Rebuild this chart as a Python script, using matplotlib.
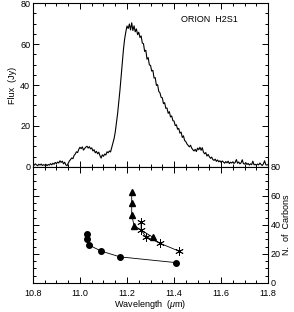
import matplotlib
matplotlib.use("Agg")
import matplotlib.pyplot as plt
import numpy as np
from matplotlib.ticker import MultipleLocator

plt.rcParams['font.family'] = ['Liberation Sans', 'DejaVu Sans']
plt.rcParams['mathtext.fontset'] = 'custom'
plt.rcParams['mathtext.it'] = 'Liberation Sans:italic'

# spectrum: wavelength grid start/step and flux values (Jy)
wave_start = 10.80
wave_step = 0.005
flux = [
    1.2, 0.8, 1.5, 1.0, 0.6, 1.3, 0.9, 1.4, 0.7, 1.1,
    0.8, 1.3, 0.6, 1.2, 0.9, 1.6, 1.0, 1.8, 1.3, 2.2,
    1.6, 2.4, 1.9, 3.0, 2.2, 2.8, 1.5, 2.3, 1.0, 0.6,
    1.8, 2.9, 3.6, 4.4, 4.0, 5.6, 6.3, 7.4, 7.0, 8.6,
    9.6, 8.9, 9.8, 8.2, 9.0, 9.7, 10.1, 9.2, 9.9, 8.8,
    9.3, 7.8, 8.4, 6.9, 7.6, 6.4, 7.2, 5.5, 4.3, 5.9,
    5.2, 6.3, 5.8, 7.4, 6.9, 7.8, 7.3, 9.4, 11.5, 13.8,
    17.0, 21.5, 26.0, 31.8, 37.5, 44.0, 51.0, 57.5, 62.5, 66.0,
    68.8, 67.6, 69.8, 66.9, 70.4, 66.6, 68.9, 66.0, 67.4, 64.6,
    65.8, 63.2, 64.0, 60.5, 60.2, 56.4, 57.0, 52.6, 53.4, 49.8,
    49.6, 46.8, 47.2, 43.4, 43.6, 39.8, 40.2, 36.9, 36.2, 34.0,
    33.8, 30.9, 31.4, 28.6, 28.8, 26.2, 27.0, 24.4, 24.9, 22.6,
    22.4, 20.2, 20.6, 18.4, 18.8, 16.5, 17.0, 14.4, 15.2, 12.9,
    12.4, 11.2, 10.5, 9.8, 10.6, 9.2, 8.4, 7.8, 8.6, 7.5,
    9.2, 8.4, 9.6, 8.1, 9.4, 7.2, 6.4, 7.0, 5.3, 6.1,
    5.0, 4.2, 4.8, 3.6, 3.2, 3.8, 2.7, 3.4, 2.5, 3.0,
    2.2, 2.9, 2.4, 1.8, 2.6, 2.0, 2.8, 1.6, 2.3, 1.9,
    2.5, 1.7, 2.2, 3.6, 1.8, 2.4, 1.5, 2.0, 3.5, 1.6,
    1.4, 2.1, 1.2, 1.7, 0.9, 1.5, 1.1, 2.8, 1.0, 1.3,
    0.8, 1.4, 1.0, 1.9, 1.2, 0.7, 1.5, 3.0, 1.1, 0.9,
    1.2,
]

# number of carbons vs band position
circ_wave = [11.03, 11.03, 11.04, 11.09, 11.17, 11.41]
circ_nc = [34, 30, 26, 22, 18, 14]
tri_wave = [11.22, 11.22, 11.22, 11.23, 11.31]
tri_nc = [63, 55, 47, 39.5, 31.5]
star_wave = [11.26, 11.26, 11.28, 11.34, 11.42]
star_nc = [42, 36.5, 32, 27.4, 22]

wave = wave_start + wave_step * np.arange(len(flux))

fig = plt.figure(figsize=(2.94, 3.12), dpi=100)
ax1 = fig.add_axes([0.112, 0.465, 0.8, 0.525])
ax2 = fig.add_axes([0.112, 0.093, 0.8, 0.372], sharex=ax1)

fs = 6.5

# top panel: spectrum
ax1.plot(wave, flux, color='black', lw=0.8)
ax1.set_xlim(10.8, 11.8)
ax1.set_ylim(0, 80)
ax1.set_ylabel('Flux  (Jy)', fontsize=fs, labelpad=2)
ax1.text(11.55, 72, 'ORION  H2S1', fontsize=fs, ha='center', va='center')
ax1.yaxis.set_major_locator(MultipleLocator(20))
ax1.yaxis.set_minor_locator(MultipleLocator(5))
ax1.tick_params(labelbottom=False)

# bottom panel: number of carbons
ax2.plot(circ_wave, circ_nc, color='black', lw=0.6, marker='o', ms=4)
ax2.plot(tri_wave, tri_nc, color='black', lw=0.6, marker='^', ms=4.5)
ax2.plot(star_wave, star_nc, color='black', lw=0.6, marker=(6, 2, 0),
         ms=6, mew=0.6)
ax2.set_ylim(0, 80)
ax2.yaxis.set_major_locator(MultipleLocator(20))
ax2.yaxis.set_minor_locator(MultipleLocator(5))
ax2.set_xlabel('Wavelength  ($\\mu$m)', fontsize=fs, labelpad=0)
ax2.yaxis.set_label_position('right')
ax2.set_ylabel('N.  of  Carbons', fontsize=fs, labelpad=1)
ax2.tick_params(labelleft=False, labelright=True)

for ax in (ax1, ax2):
    ax.xaxis.set_major_locator(MultipleLocator(0.2))
    ax.xaxis.set_minor_locator(MultipleLocator(0.05))
    ax.tick_params(which='both', direction='in', top=True, right=True,
                   labelsize=fs, width=0.7, pad=2)
    ax.tick_params(which='major', length=4)
    ax.tick_params(which='minor', length=2)
    for s in ax.spines.values():
        s.set_linewidth(0.8)

ax2.tick_params(axis='x', which='both', pad=4)
ax2.xaxis.set_major_formatter(plt.FuncFormatter(lambda v, p: f'{v:.1f}'))

fig.savefig('out.png', dpi=100)
